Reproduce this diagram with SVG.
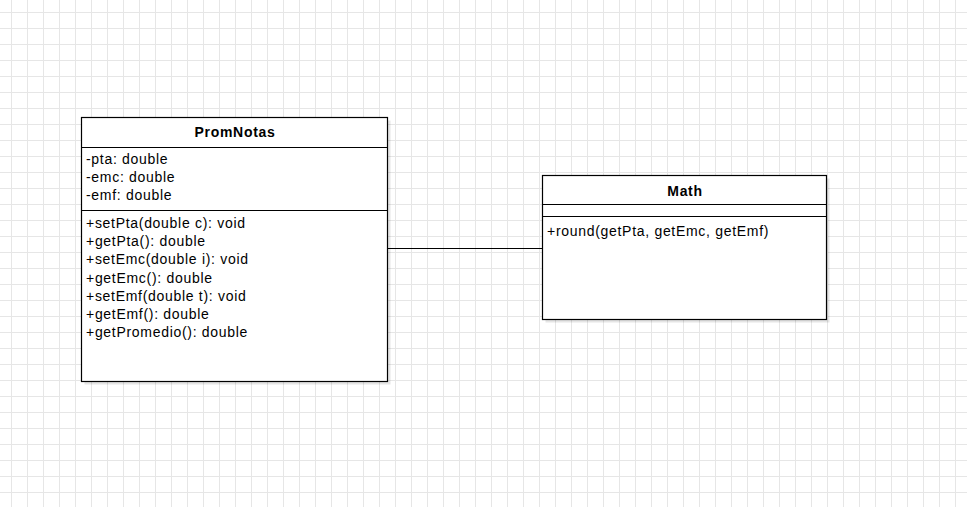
<svg xmlns="http://www.w3.org/2000/svg" width="967" height="507" viewBox="0 0 967 507">
<defs>
<pattern id="grid" x="11" y="12" width="16" height="16" patternUnits="userSpaceOnUse">
<path d="M0.5 0V16M0 0.5H16" fill="none" stroke="#e6e6e6" stroke-width="1"/>
</pattern>
</defs>
<style>
.box{fill:#ffffff;stroke:#000000;stroke-width:1.2}
.shadow{fill:#000000;opacity:0.1}
.div{stroke:#000000;stroke-width:1}
.t{font-family:"Liberation Sans",Arial,sans-serif;font-size:14px;letter-spacing:0.7px;fill:#000000}
.title{font-family:"Liberation Sans",Arial,sans-serif;font-size:14px;font-weight:bold;letter-spacing:0.7px;fill:#000000;text-anchor:middle}
.edge{fill:none;stroke:#000000;stroke-width:1}
</style>
<rect width="967" height="507" fill="#ffffff"/>
<rect width="967" height="507" fill="url(#grid)"/>
<g id="connectors">
<path class="edge" d="M387.5 248.5H542"/>
</g>
<g id="PromNotas">
<rect class="shadow" x="84.5" y="120.5" width="306" height="264"/>
<rect class="box" x="81.5" y="117.5" width="306" height="264"/>
<path class="div" d="M81.5 147.5H387.5M81.5 210.5H387.5"/>
<text class="title" x="235" y="137">PromNotas</text>
<text class="t" x="86" y="164">-pta: double</text>
<text class="t" x="86" y="182">-emc: double</text>
<text class="t" x="86" y="200">-emf: double</text>
<text class="t" x="86" y="228">+setPta(double c): void</text>
<text class="t" x="86" y="246.2">+getPta(): double</text>
<text class="t" x="86" y="264.4">+setEmc(double i): void</text>
<text class="t" x="86" y="282.6">+getEmc(): double</text>
<text class="t" x="86" y="300.8">+setEmf(double t): void</text>
<text class="t" x="86" y="319">+getEmf(): double</text>
<text class="t" x="86" y="337.2">+getPromedio(): double</text>
</g>
<g id="Math">
<rect class="shadow" x="545.5" y="178.5" width="284" height="144"/>
<rect class="box" x="542.5" y="175.5" width="284" height="144"/>
<path class="div" d="M542.5 204.5H826.5M542.5 216.5H826.5"/>
<text class="title" x="685" y="196">Math</text>
<text class="t" x="547" y="236">+round(getPta, getEmc, getEmf)</text>
</g>
</svg>
